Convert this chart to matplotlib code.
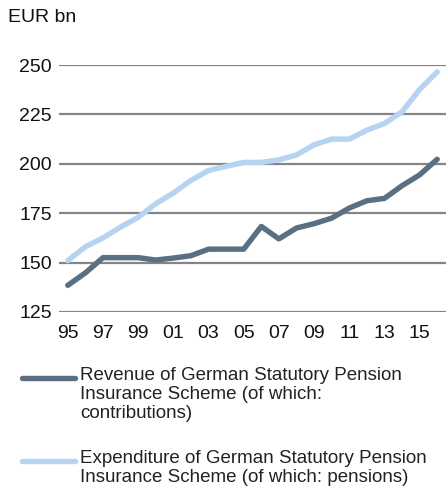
import matplotlib
matplotlib.use("Agg")
import matplotlib.pyplot as plt
from matplotlib.lines import Line2D

plt.rcParams['font.family'] = ['Liberation Sans', 'DejaVu Sans']

# data (EUR bn)
years = list(range(1995, 2017))
revenue = [138.5, 144.8, 152.5, 152.5, 152.5, 151.3, 152.3, 153.5, 156.8, 156.8, 156.8,
           168.3, 162.0, 167.5, 169.7, 172.5, 177.6, 181.3, 182.5, 188.9, 194.4, 202.3]
expenditure = [151.0, 158.0, 162.5, 168.0, 172.9, 179.8, 185.2, 191.6, 196.6, 198.7, 200.7,
               200.7, 202.0, 204.5, 209.6, 212.5, 212.5, 217.0, 220.4, 226.3, 237.6, 246.5]
tick_years = list(range(1995, 2016, 2))
tick_labels = ["%02d" % (y % 100) for y in tick_years]
y_ticks = [125, 150, 175, 200, 225, 250]

label_rev = "Revenue of German Statutory Pension\nInsurance Scheme (of which:\ncontributions)"
label_exp = "Expenditure of German Statutory Pension\nInsurance Scheme (of which: pensions)"

dark = "#5b6f83"
light = "#b6d3f1"
grid_col = "#858585"

W, H = 446, 495
fig = plt.figure(figsize=(W / 100, H / 100), dpi=100)
ax = fig.add_axes([59 / W, 1 - 312 / H, (W - 59) / W, (312 - 65) / H])

for v in y_ticks:
    ax.axhline(v, color=grid_col, lw=1.6, zorder=1)

ax.plot(years, expenditure, color=light, lw=3.9, solid_capstyle='round',
        solid_joinstyle='round', zorder=3, clip_on=False)
ax.plot(years, revenue, color=dark, lw=3.9, solid_capstyle='round',
        solid_joinstyle='round', zorder=4, clip_on=False)

ax.set_xlim(1994.5, 2016.5)
ax.set_ylim(125, 250)
ax.set_xticks(tick_years)
ax.set_xticklabels(tick_labels)
ax.set_yticks(y_ticks)
ax.tick_params(length=0, labelsize=14, colors="#111111")
ax.tick_params(axis='x', pad=9)
ax.tick_params(axis='y', pad=5)
for s in ax.spines.values():
    s.set_visible(False)

fig.text(8 / W, 1 - 18 / H, "EUR bn", fontsize=14, va='center', ha='left', color="#111111")

# legend drawn by hand so the sample line sits on the first text line
for (yc, col, lab) in [(378, dark, label_rev), (461, light, label_exp)]:
    fig.add_artist(Line2D([22 / W, 75 / W], [1 - yc / H, 1 - yc / H], color=col, lw=3.9,
                          solid_capstyle='round', transform=fig.transFigure))
    fig.text(80 / W, 1 - (yc - 11) / H, lab, fontsize=13.5, va='top', ha='left',
             linespacing=1.17, color="#222222")

fig.savefig("out.png", dpi=100)
